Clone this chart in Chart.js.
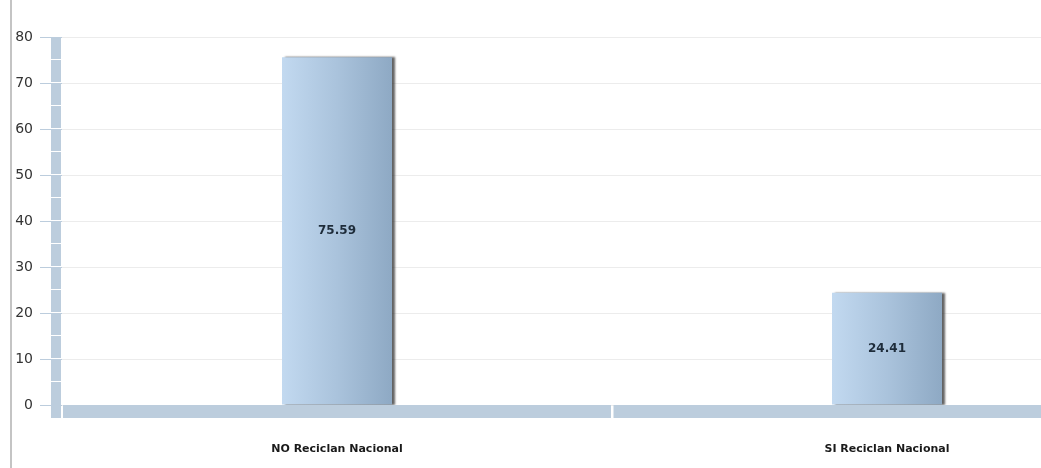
<!DOCTYPE html>
<html>
<head>
<meta charset="utf-8">
<script src="https://cdn.jsdelivr.net/npm/chart.js@4/dist/chart.umd.min.js"></script>
<style>
    html, body { margin: 0; padding: 0; overflow: hidden; background: #fff; }
    #wrap { width: 1041px; height: 468px; overflow: hidden; position: relative; }
</style>
</head>
<body>
<div id="wrap">
    <canvas id="myChart" width="1162" height="468"></canvas>
</div>
<script>
// chart values
var categories = ['NO Reciclan Nacional', 'SI Reciclan Nacional'];
var values = [75.59, 24.41];
var yMax = 80;
var yStep = 10;
var axisSegment = 5; // the thick y axis bar is cut every 5 units

// frame line on the left, thick axis bars
var axisBars = {
    id: 'axisBars',
    beforeDraw: function(chart) {
        var c = chart.ctx;
        c.save();
        c.fillStyle = '#c4c4c4';
        c.fillRect(10, 0, 2, chart.height);
        c.restore();
    },
    afterDraw: function(chart) {
        var c = chart.ctx;
        var y = chart.scales.y;
        var x = chart.scales.x;
        var area = chart.chartArea;
        var bottom = area.bottom + 13;
        c.save();
        c.fillStyle = '#bccddd';
        // y bar
        for (var v = yMax; v > 0; v -= axisSegment) {
            var top = y.getPixelForValue(v);
            var end = v - axisSegment <= 0 ? bottom : y.getPixelForValue(v - axisSegment) - 1;
            c.fillRect(area.left - 11, top, 10, end - top);
        }
        // x bar, split between categories
        for (var i = 0; i < categories.length; i++) {
            var half = (x.getPixelForValue(1) - x.getPixelForValue(0)) / 2;
            var cx = x.getPixelForValue(i);
            var l = Math.max(cx - half, area.left + 1) + (i > 0 ? 1.5 : 0);
            var r = cx + half - (i < categories.length - 1 ? 1 : 0);
            c.fillRect(l, area.bottom, r - l, 13);
        }
        c.restore();
    }
};

// gradient fill + shadow for the bars, value labels inside
var barLook = {
    id: 'barLook',
    beforeDatasetsDraw: function(chart) {
        var c = chart.ctx;
        var meta = chart.getDatasetMeta(0);
        meta.data.forEach(function(bar) {
            var g = c.createLinearGradient(bar.x - bar.width / 2, 0, bar.x + bar.width / 2, 0);
            g.addColorStop(0, '#c2d9f0');
            g.addColorStop(0.5, '#aac3dc');
            g.addColorStop(1, '#8ea9c4');
            // options are shared between bars, so give each its own copy
            bar.options = Object.assign({}, bar.options, { backgroundColor: g });
        });
        c.save();
        c.shadowColor = 'rgba(60,60,60,0.8)';
        c.shadowOffsetX = 3;
        c.shadowOffsetY = 0;
        c.shadowBlur = 2;
    },
    afterDatasetsDraw: function(chart) {
        var c = chart.ctx;
        c.restore();
        var meta = chart.getDatasetMeta(0);
        c.save();
        c.font = 'bold 12px "DejaVu Sans"';
        c.fillStyle = '#1e2c3a';
        c.textAlign = 'center';
        c.textBaseline = 'middle';
        meta.data.forEach(function(bar, i) {
            c.fillText(values[i].toFixed(2), bar.x, (bar.y + bar.base) / 2);
        });
        c.restore();
    }
};

var ctx = document.getElementById('myChart');
var myChart = new Chart(ctx, {
    type: 'bar',
    data: {
        labels: categories,
        datasets: [{
            data: values,
            backgroundColor: '#aac3dc',
            borderWidth: 0,
            barPercentage: 0.2,
            categoryPercentage: 1
        }]
    },
    options: {
        responsive: false,
        animation: false,
        layout: { padding: { top: 37, left: 0, right: 0, bottom: 0 } },
        plugins: {
            legend: { display: false },
            tooltip: { enabled: false }
        },
        scales: {
            y: {
                min: 0,
                max: yMax,
                border: { display: false },
                grid: {
                    color: '#ececec',
                    tickColor: '#bccddd',
                    tickLength: 22,
                    lineWidth: 1
                },
                ticks: {
                    stepSize: yStep,
                    padding: 7,
                    color: '#333',
                    font: { family: 'DejaVu Sans', size: 14 }
                },
                afterFit: function(scale) { scale.width = 62; }
            },
            x: {
                border: { display: false },
                grid: { display: false, drawTicks: false },
                ticks: {
                    padding: 38,
                    color: '#1a1a1a',
                    font: { family: 'DejaVu Sans', size: 11, weight: 'bold' },
                    maxRotation: 0
                },
                afterFit: function(scale) { scale.height = 63; }
            }
        }
    },
    plugins: [axisBars, barLook]
});
</script>
</body>
</html>
